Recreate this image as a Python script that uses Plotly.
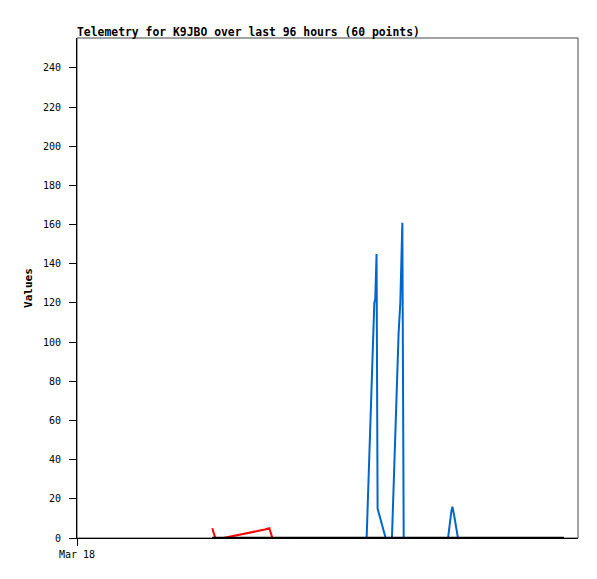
import plotly.graph_objects as go

# hours since the left edge of the 96 h window
hours = [
    25.92, 26.50, 28.03, 29.60, 31.20, 32.80, 34.40, 36.00, 36.86, 37.44,
    39.00, 40.60, 42.10, 43.70, 45.20, 46.80, 48.30, 49.90, 51.40, 53.00,
    54.30, 55.50, 56.97, 57.15, 57.40, 57.60, 59.14, 60.35, 61.63, 61.95,
    62.34, 62.53, 62.60, 63.90, 65.20, 66.50, 67.80, 69.00, 70.10, 71.10,
    71.75, 71.94, 72.30, 73.00, 74.30, 75.60, 76.90, 78.20, 79.50, 80.80,
    82.10, 83.40, 84.70, 86.00, 87.30, 88.60, 89.90, 91.00, 92.20, 93.30,
]

red_vals = [
    5.0, 0.0, 0.0, 0.8, 1.7, 2.5, 3.4, 4.3, 5.0, 0.0,
    0, 0, 0, 0, 0, 0, 0, 0, 0, 0,
    0, 0, 0, 0, 0, 0, 0, 0, 0, 0,
    0, 0, 0, 0, 0, 0, 0, 0, 0, 0,
    0, 0, 0, 0, 0, 0, 0, 0, 0, 0,
    0, 0, 0, 0, 0, 0, 0, 0, 0, 0,
]

blue_vals = [
    0, 0, 0, 0, 0, 0, 0, 0, 0, 0,
    0, 0, 0, 0, 0, 0, 0, 0, 0, 0,
    0, 0, 120, 122, 145, 15, 0, 0, 105, 120,
    161, 80, 0, 0, 0, 0, 0, 0, 0, 0,
    14, 16, 11, 0, 0, 0, 0, 0, 0, 0,
    0, 0, 0, 0, 0, 0, 0, 0, 0, 0,
]

black_vals = [0] * 60

y_ticks = [0, 20, 40, 60, 80, 100, 120, 140, 160, 180, 200, 220, 240]
x_tick_hours = [0]
x_tick_text = ["Mar 18"]

MONO = "DejaVu Sans Mono, Liberation Mono, monospace"

fig = go.Figure()
fig.add_trace(go.Scatter(x=hours, y=red_vals, mode="lines",
                         line=dict(color="#ff0000", width=2), name="red"))
fig.add_trace(go.Scatter(x=hours, y=blue_vals, mode="lines",
                         line=dict(color="#0066cc", width=2), name="blue"))
fig.add_trace(go.Scatter(x=hours, y=black_vals, mode="lines",
                         line=dict(color="#000000", width=2.5), name="black"))

# thin grey frame round the plot area
fig.add_shape(type="rect", xref="paper", yref="paper", x0=0, y0=0, x1=1, y1=1,
              line=dict(color="#444444", width=1), layer="below")

# the page body adds an 8px offset, so margins are shifted to compensate
fig.update_layout(
    width=597, height=579,
    margin=dict(l=69, r=27, t=30, b=49),
    paper_bgcolor="white", plot_bgcolor="white",
    showlegend=False,
    font=dict(family=MONO, size=10, color="black"),
    title=dict(
        text="<b>Telemetry for K9JBO over last 96 hours (60 points)</b>",
        x=0, xref="paper", xanchor="left",
        y=1, yref="paper", yanchor="bottom", pad=dict(b=2),
        font=dict(family=MONO, size=11.4, color="black"),
    ),
    xaxis=dict(
        range=[0, 96], showgrid=False, zeroline=False,
        showline=True, linecolor="black", linewidth=1,
        ticks="outside", ticklen=7, tickcolor="black",
        tickvals=x_tick_hours, ticktext=x_tick_text,
        tickfont=dict(family=MONO, size=10),
    ),
    yaxis=dict(
        range=[0, 255.3], showgrid=False, zeroline=False,
        showline=True, linecolor="black", linewidth=1,
        ticks="outside", ticklen=7, tickcolor="black",
        tickvals=y_ticks, ticklabelstandoff=6,
        tickfont=dict(family=MONO, size=10),
        title=dict(text="<b>Values</b>", standoff=8,
                   font=dict(family=MONO, size=11)),
    ),
)

fig.write_html("out.html")
